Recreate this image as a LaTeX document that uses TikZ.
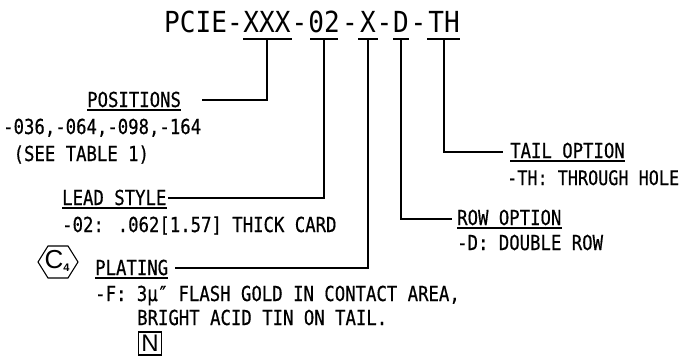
\documentclass[tikz,border=0pt]{standalone}
\usepackage{fontspec}
\setmainfont{DejaVu Sans Mono}[FakeStretch=0.84,FakeBold=0.5]
\newfontfamily\titlefont{DejaVu Sans Mono}[FakeStretch=0.9]
\newfontfamily\hfont{Liberation Sans}
\begin{document}
\begin{tikzpicture}[x=1pt,y=-1pt]
\useasboundingbox (0,0) rectangle (681,356);
\tikzset{
  ttl/.style={anchor=base, inner sep=0pt, font=\titlefont\fontsize{29}{29}\selectfont},
  lbl/.style={anchor=base west, inner sep=0pt, font=\fontsize{20.6}{20.6}\selectfont},
  lead/.style={line width=1.6pt},
  uline/.style={line width=1.1pt},
}
% title
\node[ttl, anchor=base east] (tP) at (243,32) {PCIE-};
\node[ttl] (tX) at (267,32) {XXX};
\node[ttl] (d1) at (299.5,32) {-};
\node[ttl] (t02) at (324,32) {02};
\node[ttl] (d2) at (350,32) {-};
\node[ttl] (tx) at (368,32) {X};
\node[ttl] (d3) at (384.5,32) {-};
\node[ttl] (tD) at (401,32) {D};
\node[ttl] (d4) at (418.4,32) {-};
\node[ttl] (tTH) at (444,32) {TH};
% underlines under title parts
\coordinate (uX) at (267,39); \draw[uline] (243,39) -- (292,39);
\coordinate (u02) at (324,39); \draw[uline] (310,39) -- (338,39);
\coordinate (ux) at (368,39); \draw[uline] (358,39) -- (378,39);
\coordinate (uD) at (401,39); \draw[uline] (393,39) -- (409,39);
\coordinate (uTH) at (444,39); \draw[uline] (427,39) -- (460,39);
% labels
\node[lbl] (pos) at (87,107) {POSITIONS};
\node[lbl] (posa) at (3,134) {-036,-064,-098,-164};
\node[lbl] (posb) at (3,161) {\ (SEE TABLE 1)};
\node[lbl] (lead) at (62,205) {LEAD STYLE};
\node[lbl] (leada) at (62,232) {-02: .062[1.57] THICK CARD};
\node[lbl] (plat) at (95,275) {PLATING};
\node[lbl] (plata) at (95,301) {-F: 3μ″ FLASH GOLD IN CONTACT AREA,};
\node[lbl] (platb) at (137,325) {BRIGHT ACID TIN ON TAIL.};
\node[lbl] (tail) at (510,158) {TAIL OPTION};
\node[lbl, font=\fontsize{20}{20}\selectfont] (taila) at (507,185) {-TH: THROUGH HOLE};
\node[lbl] (row) at (457,225) {ROW OPTION};
\node[lbl] (rowa) at (457,250) {-D: DOUBLE ROW};
\draw[uline] ([yshift=-3pt]pos.base west) -- ([yshift=-3pt]pos.base east);
\draw[uline] ([yshift=-3pt]lead.base west) -- ([yshift=-3pt]lead.base east);
\draw[uline] ([yshift=-3pt]plat.base west) -- ([yshift=-3pt]plat.base east);
\draw[uline] ([yshift=-3pt]tail.base west) -- ([yshift=-3pt]tail.base east);
\draw[uline] ([yshift=-3pt]row.base west) -- ([yshift=-3pt]row.base east);
% leader ends
\coordinate (ePos) at (202,100);
\coordinate (eLead) at ([xshift=1pt]lead.east |- 0,198);
\coordinate (ePlat) at (175,268);
\coordinate (eRow) at (452,219);
\coordinate (eTail) at (503,152);
\draw[lead] (uX) |- (ePos);
\draw[lead] (u02) |- (eLead);
\draw[lead] (ux) |- (ePlat);
\draw[lead] (uD) |- (eRow);
\draw[lead] (uTH) |- (eTail);
% hexagon C4
\draw[line width=1.1pt] (38,262) -- (48,246) -- (68,246) -- (78,262) -- (68,278) -- (48,278) -- cycle;
\node[inner sep=0pt] (hex) at (57,261) {\hfont\fontsize{26}{26}\selectfont C\raisebox{-3pt}{\bfseries\fontsize{11}{11}\selectfont 4}};
% N box
\node[draw, line width=1.1pt, minimum width=23pt, minimum height=23pt, inner sep=0pt] (nbox) at (150,343.5) {\hfont\fontsize{24}{24}\selectfont N};
\end{tikzpicture}
\end{document}
